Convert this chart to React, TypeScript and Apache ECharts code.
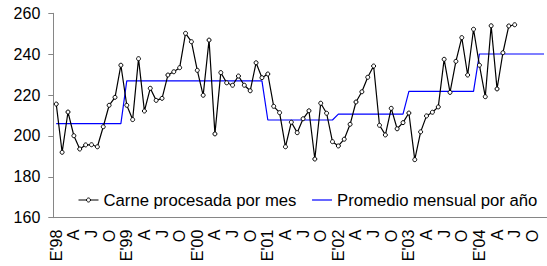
import React, { useEffect, useRef } from "react";
import * as echarts from "echarts";

const years = ["98", "99", "00", "01", "02", "03", "04"];
const monthInitials = ["E", "F", "M", "A", "M", "J", "J", "A", "S", "O", "N", "D"];

// Carne procesada por mes (Jan 1998 .. Jul 2004)
const carneMensual = [
  215.6, 192.0, 211.7, 200.1, 193.6, 195.6, 195.7, 194.7, 204.5, 215.0, 218.9, 234.6,
  215.0, 208.0, 237.8, 212.2, 223.3, 217.4, 218.4, 229.8, 231.4, 233.4, 250.2, 246.1,
  232.1, 219.9, 246.9, 201.0, 231.0, 226.0, 224.8, 229.3, 224.8, 222.1, 235.8, 228.5,
  230.3, 214.5, 211.4, 194.7, 206.7, 201.6, 208.4, 212.3, 188.7, 216.0, 211.1, 197.2,
  195.1, 198.4, 205.7, 216.6, 221.6, 228.7, 234.2, 205.2, 200.5, 213.5, 203.5, 206.5,
  211.2, 188.4, 202.0, 209.8, 211.6, 214.2, 237.5, 221.3, 236.5, 248.1, 229.8, 252.2,
  234.6, 219.2, 253.9, 223.0, 240.7, 253.8, 254.4,
];

// Promedio mensual por año (1998 .. 2004)
const promedioAnual = [206.0, 226.9, 226.9, 207.8, 210.7, 221.8, 240.1];

const yTicks = { min: 160, max: 260, interval: 20 };

const SERIES_A = "Carne procesada por mes";
const SERIES_B = "Promedio mensual por año";

export default function App() {
  const ref = useRef<HTMLDivElement>(null);

  useEffect(() => {
    if (!ref.current) return;
    const chart = echarts.init(ref.current, undefined, { renderer: "svg" });

    const categories: string[] = [];
    years.forEach((y) => monthInitials.forEach((m, mi) => categories.push(mi === 0 ? `${m}'${y}` : m)));
    const promedioMensual: number[] = [];
    promedioAnual.forEach((v) => { for (let k = 0; k < 12; k++) promedioMensual.push(v); });

    const font = "'Liberation Sans', Arial, sans-serif";
    const axisColor = "#868686";

    chart.setOption({
      animation: false,
      backgroundColor: "#ffffff",
      grid: { left: 53.3, top: 13.3, width: 496.6, height: 204.4, containLabel: false },
      legend: {
        left: 78,
        top: 191.5,
        width: 490,
        padding: 0,
        itemWidth: 20,
        itemHeight: 5,
        itemGap: 15,
        textStyle: { fontFamily: font, fontSize: 16.7, color: "#000" },
        data: [
          {
            name: SERIES_A,
            itemStyle: { color: "#fff", borderColor: "#000", borderWidth: 1 },
            lineStyle: { color: "#000", width: 1 },
          },
          {
            name: SERIES_B,
            itemStyle: { color: "rgba(0,0,0,0)", borderWidth: 0, opacity: 0 },
            lineStyle: { color: "#0000ff", width: 1.2 },
          },
        ],
      },
      xAxis: {
        type: "category",
        data: categories,
        boundaryGap: true,
        axisLine: { lineStyle: { color: axisColor, width: 1 } },
        axisTick: { interval: 2, length: 4, lineStyle: { color: axisColor } },
        axisLabel: {
          interval: 2,
          rotate: 90,
          margin: 12,
          fontFamily: font,
          fontSize: 16,
          color: "#000",
        },
        splitLine: { show: false },
      },
      yAxis: {
        type: "value",
        min: yTicks.min,
        max: yTicks.max,
        interval: yTicks.interval,
        axisLine: { show: true, lineStyle: { color: axisColor, width: 1 } },
        axisTick: { show: true, length: 5, lineStyle: { color: axisColor } },
        axisLabel: { margin: 13, fontFamily: font, fontSize: 16, color: "#000" },
        splitLine: { show: false },
      },
      series: [
        {
          name: SERIES_A,
          type: "line",
          data: carneMensual,
          symbol: "circle",
          symbolSize: 4,
          showAllSymbol: true,
          lineStyle: { color: "#000", width: 1.2 },
          itemStyle: { color: "#fff", borderColor: "#000", borderWidth: 1 },
          z: 3,
        },
        {
          name: SERIES_B,
          type: "line",
          data: promedioMensual,
          symbol: "none",
          lineStyle: { color: "#0000ff", width: 1.2 },
          itemStyle: { color: "#0000ff" },
          z: 2,
        },
      ],
    });

    return () => chart.dispose();
  }, []);

  return (
    <div
      ref={ref}
      style={{ position: "absolute", left: 0, top: 0, width: 547, height: 266, background: "#fff" }}
    />
  );
}
